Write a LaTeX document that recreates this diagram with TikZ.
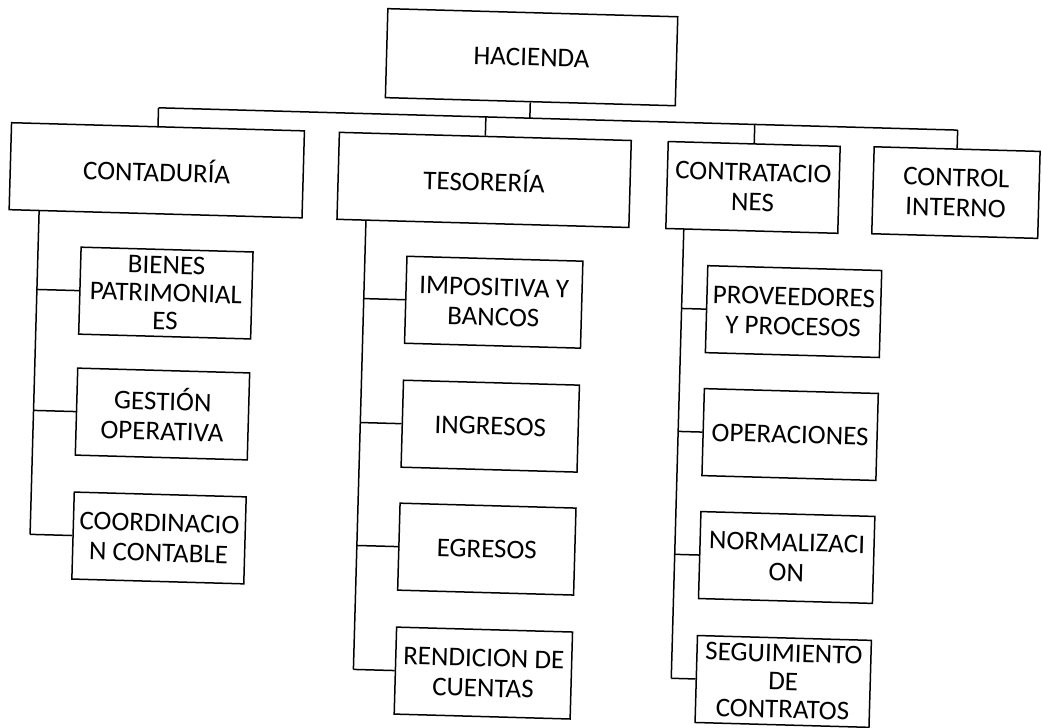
\documentclass[tikz,border=0pt]{standalone}
\usepackage{fontspec}
\setmainfont{Carlito}
\begin{document}
\begin{tikzpicture}[x=1pt,y=-1pt,
  box/.style={draw, line width=1.5pt, align=center, inner sep=2pt,
    font=\fontsize{27}{30}\selectfont, transform shape},
  topbox/.style={box, minimum height=87},
  kid/.style={box, minimum height=87},
  link/.style={line width=1.5pt}]
\useasboundingbox (0,0) rectangle (1042,728);
\begin{scope}[rotate around={-1.6:(521,364)}]
% top
\node[box, minimum width=290, minimum height=89] (hac) at (523,57) {HACIENDA};
\node[topbox, minimum width=293] (cont) at (151.5,180.5) {CONTADURÍA};
\node[topbox, minimum width=292] (tes) at (479,181) {TESORERÍA};
\node[topbox, minimum width=172] (contr) at (748,181) {CONTRATACIO\\NES};
\node[topbox, minimum width=166] (ctrl) at (951,180.5) {CONTROL\\INTERNO};
% contaduria kids
\node[kid, minimum width=172, font=\fontsize{27}{28}\selectfont] (bien) at (164,303) {BIENES\\PATRIMONIAL\\ES};
\node[kid, minimum width=172] (gest) at (164,424) {GESTIÓN\\OPERATIVA};
\node[kid, minimum width=172] (coord) at (164,548) {COORDINACIO\\N CONTABLE};
% tesoreria kids
\node[kid, minimum width=176] (impo) at (492,303) {IMPOSITIVA Y\\BANCOS};
\node[kid, minimum width=176] (ingr) at (492,427) {INGRESOS};
\node[kid, minimum width=176] (egre) at (492,550) {EGRESOS};
\node[kid, minimum width=176] (rend) at (492,674) {RENDICION DE\\CUENTAS};
% contrataciones kids
\node[kid, minimum width=174] (prov) at (792,304) {PROVEEDORES\\Y PROCESOS};
\node[kid, minimum width=174] (oper) at (792,427) {OPERACIONES};
\node[kid, minimum width=174] (norm) at (792,550) {NORMALIZACI\\ON};
\node[kid, minimum width=174, font=\fontsize{27}{28}\selectfont] (segu) at (792,674) {SEGUIMIENTO\\DE\\CONTRATOS};
% bus
\coordinate (hacb) at (523,118);
\coordinate (contb) at (151.5,118);
\coordinate (tesb) at (479,118);
\coordinate (contrb) at (748,118);
\coordinate (ctrlb) at (951,118);
\draw[link] (hac.south) -- (hacb);
\draw[link] (contb) -- (ctrlb);
\draw[link] (contb) -- (cont.north);
\draw[link] (tesb) -- (tes.north);
\draw[link] (contrb) -- (contr.north);
\draw[link] (ctrlb) -- (ctrl.north);
% contaduria spine
\coordinate (cs0) at (35,224);
\coordinate (cs1) at (35,303);
\coordinate (cs2) at (35,424);
\coordinate (cs3) at (35,548);
\draw[link] (cs0) -- (cs3);
\draw[link] (cs1) -- (bien.west);
\draw[link] (cs2) -- (gest.west);
\draw[link] (cs3) -- (coord.west);
% tesoreria spine
\coordinate (ts0) at (362,225);
\coordinate (ts1) at (362,303);
\coordinate (ts2) at (362,427);
\coordinate (ts3) at (362,550);
\coordinate (ts4) at (362,674);
\draw[link] (ts0) -- (ts4);
\draw[link] (ts1) -- (impo.west);
\draw[link] (ts2) -- (ingr.west);
\draw[link] (ts3) -- (egre.west);
\draw[link] (ts4) -- (rend.west);
% contrataciones spine
\coordinate (rs0) at (680,224.5);
\coordinate (rs1) at (680,304);
\coordinate (rs2) at (680,427);
\coordinate (rs3) at (680,550);
\coordinate (rs4) at (680,674);
\draw[link] (rs0) -- (rs4);
\draw[link] (rs1) -- (prov.west);
\draw[link] (rs2) -- (oper.west);
\draw[link] (rs3) -- (norm.west);
\draw[link] (rs4) -- (segu.west);
\end{scope}
\end{tikzpicture}
\end{document}
